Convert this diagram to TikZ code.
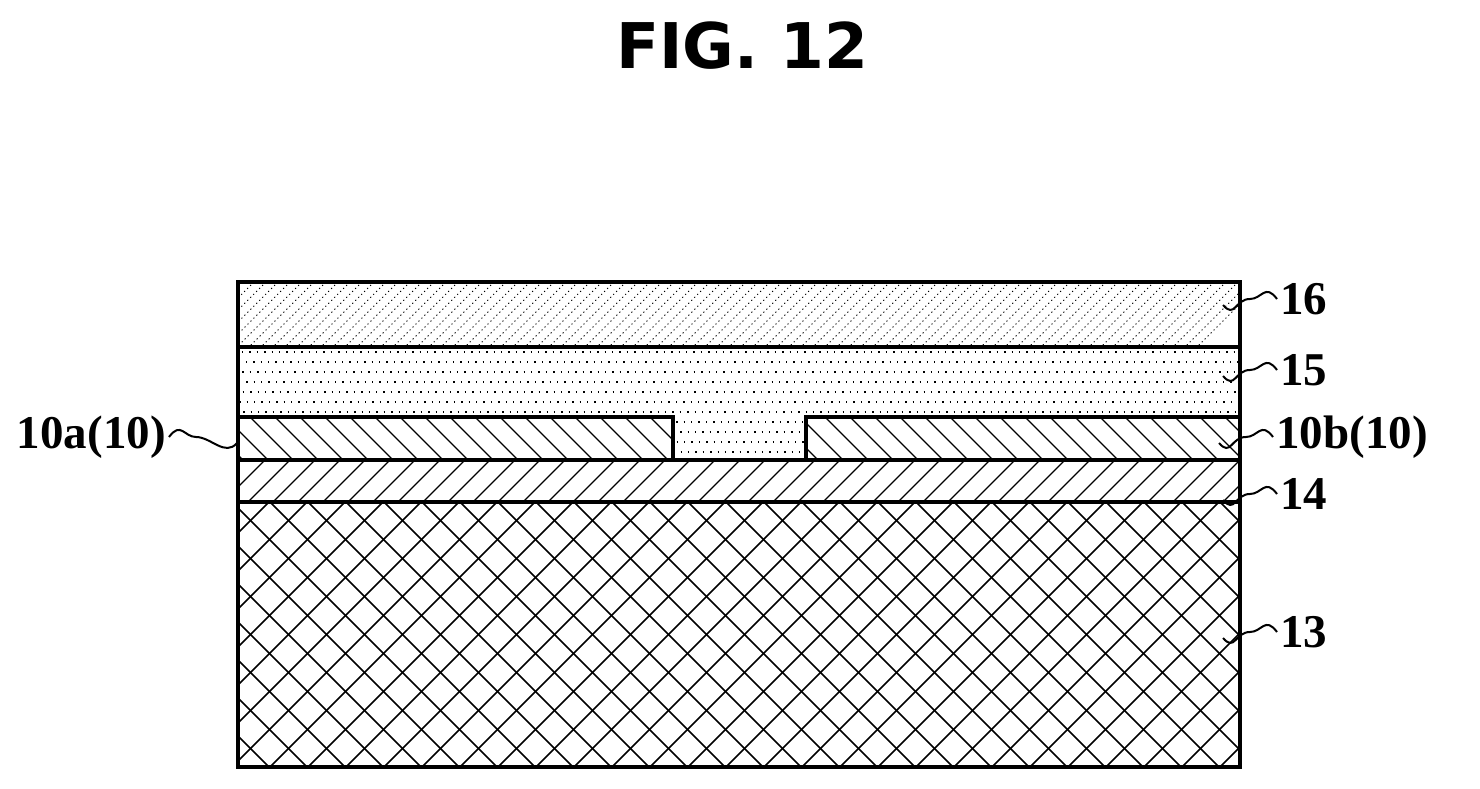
\documentclass[tikz,border=0pt]{standalone}
\usepackage{fontspec}
\setmainfont{Liberation Serif}
\newfontfamily\titlefont{DejaVu Sans}
\begin{document}
\begin{tikzpicture}[x=1pt,y=-1pt,
  bd/.style={line width=3.5pt},
  hl/.style={line width=1.3pt},
  lbl/.style={anchor=west,inner sep=0pt,font=\fontsize{47}{47}\selectfont\bfseries},
  lead/.style={line width=2pt}]
\useasboundingbox (0,0) rectangle (1480,789);
\node[font=\titlefont\bfseries\fontsize{63}{63}\selectfont] (title) at (742,46) {FIG. 12};
% 16
\begin{scope}
\clip (238,282) rectangle (1240,347);
\foreach \i in {0,12,...,1100} \draw[line width=0.9pt,dash pattern=on 1.2pt off 3pt] (\i+170,282) -- (\i+105,347);
\end{scope}
% 15 dots
\begin{scope}
\clip (238,347) rectangle (1240,460);
\foreach \y [count=\k] in {352,362,...,458} \draw[line width=1.4pt,dash pattern=on 1.4pt off 6pt,dash phase=\k*3.5pt] (238,\y) -- (1240,\y);
\end{scope}
% 10a, 10b
\fill[white] (238,417) rectangle (673,460);
\fill[white] (806,417) rectangle (1240,460);
\begin{scope}
\clip (238,417) rectangle (673,460) (806,417) rectangle (1240,460);
\foreach \i in {0,25,...,1050} \draw[hl] (\i+200,417) -- (\i+243,460);
\end{scope}
% 14
\begin{scope}
\clip (238,460) rectangle (1240,502);
\foreach \i in {0,25,...,1050} \draw[hl] (\i+240,460) -- (\i+198,502);
\end{scope}
% 13
\begin{scope}
\clip (238,502) rectangle (1240,767);
\foreach \i in {-300,-262,...,1300} {\draw[line width=1.6pt] (\i,502) -- (\i+265,767); \draw[line width=1.6pt] (\i+265,502) -- (\i,767);}
\end{scope}
% outlines
\draw[bd] (238,282) rectangle (1240,767);
\draw[bd] (238,347) -- (1240,347);
\draw[bd] (238,460) -- (1240,460);
\draw[bd] (238,502) -- (1240,502);
\draw[bd] (238,417) -- (673,417) -- (673,460);
\draw[bd] (806,460) -- (806,417) -- (1240,417);
% labels
\node[lbl] (l16) at (1280,299) {16};
\node[lbl] (l15) at (1280,370) {15};
\node[lbl] (l10b) at (1276,437) {10b(10)};
\node[lbl] (l14) at (1280,494) {14};
\node[lbl] (l13) at (1280,632) {13};
\node[lbl,anchor=east] (l10a) at (166,437) {10a(10)};
\foreach \n in {l16,l15,l10b,l14,l13}{
  \draw[lead] ([xshift=-3pt]\n.west) .. controls +(-12,-16) and +(12,0) .. +(-27,0) .. controls +(-15,0) and +(12,14) .. +(-54,6);
}
\draw[lead] ([xshift=3pt]l10a.east) .. controls +(12,-16) and +(-12,0) .. +(27,0) .. controls +(15,0) and +(-12,14) .. +(68,6);
\end{tikzpicture}
\end{document}
